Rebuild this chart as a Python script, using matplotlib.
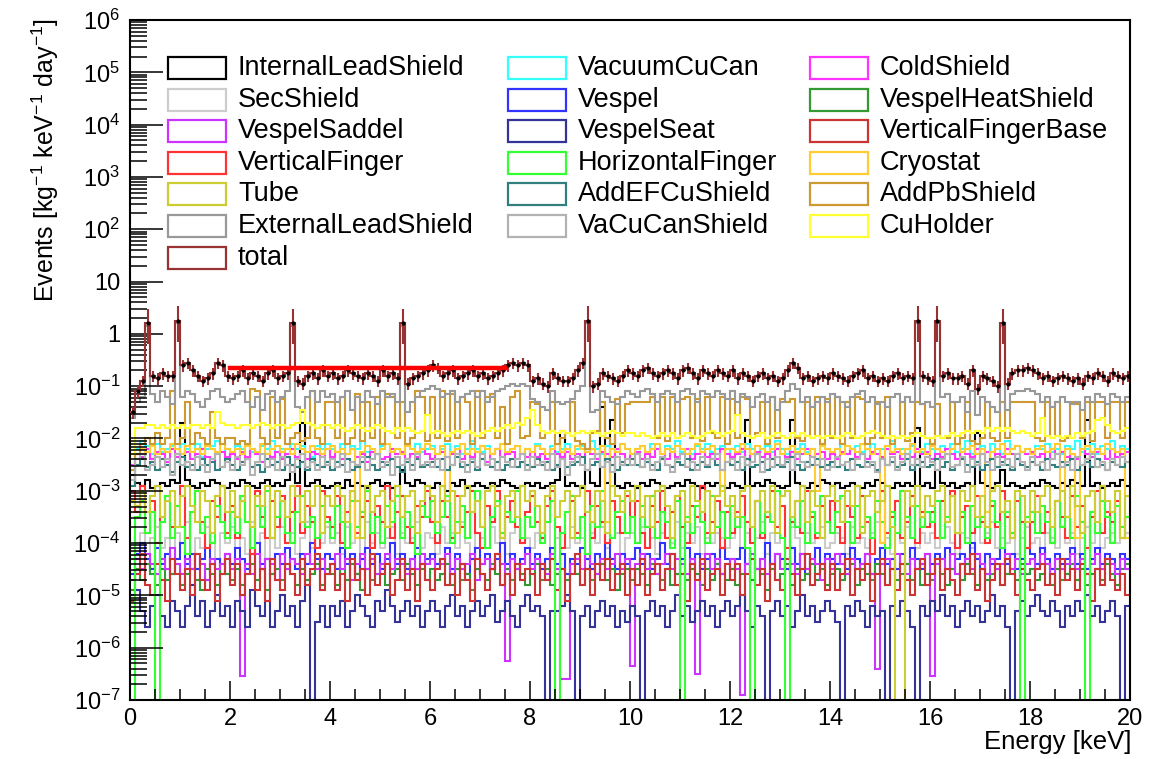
import numpy as np
import matplotlib
matplotlib.use("Agg")
import matplotlib.pyplot as plt
from matplotlib.patches import Rectangle
from matplotlib.ticker import LogLocator, NullFormatter, FuncFormatter, MultipleLocator

plt.rcParams['font.family'] = 'Liberation Sans'
plt.rcParams['mathtext.fontset'] = 'custom'
plt.rcParams['mathtext.rm'] = 'Liberation Sans'
plt.rcParams['mathtext.it'] = 'Liberation Sans:italic'

# 200 bins of 0.1 keV from 0 to 20 keV
e_min, e_max, n_bins = 0.0, 20.0, 200

# log10 of events [kg^-1 keV^-1 day^-1] per bin
# (-9 marks an empty bin, drawn below the axis)
InternalLeadShield = [
    -2.7, -2.85, -2.9, -2.8, -2.95, -2.9, -2.85, -2.9, -2.8, -2.85, -1.7, -2.8, -2.9, -2.95, -2.85, -2.9, -2.8, -2.85, -2.9, -2.95,
    -2.85, -2.9, -2.8, -2.85, -2.9, -2.95, -2.85, -2.8, -2.9, -2.85, -2.9, -2.8, -2.5, -2.85, -1.7, -2.9, -2.85, -2.8, -2.9, -2.95,
    -2.9, -2.85, -2.95, -2.8, -2.9, -2.85, -2.9, -2.95, -2.85, -2.8, -2.9, -2.85, -2.95, -2.9, -2.6, -2.85, -2.9, -2.8, -2.85, -2.9,
    -2.95, -2.85, -2.9, -3.0, -2.85, -2.9, -2.8, -2.95, -2.9, -2.85, -2.9, -2.95, -2.85, -2.9, -2.8, -2.85, -2.9, -2.95, -2.9, -2.85,
    -2.9, -2.85, -2.95, -2.9, -2.85, -2.8, -1.85, -2.9, -2.85, -2.9, -2.95, -2.6, -2.85, -2.9, -1.4, -2.85, -1.65, -2.9, -2.95, -2.85,
    -2.9, -2.95, -2.85, -2.9, -2.8, -2.85, -2.9, -2.95, -2.9, -2.85, -2.9, -2.8, -2.85, -2.9, -2.95, -2.85, -2.9, -2.85, -2.9, -2.95,
    -2.85, -2.9, -2.95, -1.65, -2.9, -2.85, -2.9, -2.8, -2.85, -2.9, -2.95, -2.9, -1.65, -2.85, -2.9, -2.95, -2.85, -2.9, -2.8, -2.85,
    -2.9, -2.85, -2.95, -2.9, -2.85, -2.9, -2.95, -2.85, -2.9, -2.8, -2.85, -2.9, -2.95, -2.85, -2.9, -2.85, -2.9, -1.8, -2.9, -2.85,
    -2.95, -2.6, -2.85, -2.9, -2.85, -2.95, -2.9, -2.85, -2.9, -1.9, -2.85, -2.9, -2.95, -2.85, -2.6, -2.9, -2.85, -2.9, -2.95, -2.9,
    -2.85, -2.9, -2.8, -2.85, -2.9, -2.95, -2.85, -2.9, -2.8, -2.85, -2.9, -1.65, -2.9, -2.85, -2.95, -2.9, -2.85, -2.9, -2.8, -2.9,
]
VacuumCuCan = [
    -2.6, -2.2, -2.05, -2.15, -2.3, -2.1, -2.25, -2.2, -2.15, -2.3, -2.1, -2.2, -2.25, -2.1, -2.35, -2.2, -2.15, -2.05, -2.25, -2.2,
    -2.3, -2.15, -2.2, -2.1, -2.25, -2.3, -2.15, -2.2, -2.05, -2.25, -2.2, -2.3, -2.1, -2.2, -2.15, -2.25, -2.35, -2.15, -2.2, -2.1,
    -2.2, -2.25, -2.1, -2.3, -2.15, -2.2, -2.05, -2.25, -2.2, -2.3, -2.15, -2.1, -2.25, -2.2, -2.3, -2.15, -2.2, -2.1, -2.25, -2.2,
    -2.15, -2.3, -2.2, -2.1, -2.25, -2.15, -2.3, -2.2, -2.05, -2.2, -2.25, -2.15, -2.3, -2.2, -2.1, -2.25, -2.2, -2.15, -2.3, -2.2,
    -2.25, -2.1, -2.2, -2.3, -2.15, -2.25, -2.2, -2.1, -2.3, -2.2, -2.15, -2.25, -2.05, -2.2, -2.3, -2.15, -2.2, -2.25, -2.1, -2.2,
    -2.3, -2.2, -2.15, -2.25, -2.1, -2.2, -2.3, -2.15, -2.2, -2.05, -2.25, -2.2, -2.3, -2.15, -2.2, -2.1, -2.25, -2.2, -2.15, -2.3,
    -2.2, -2.15, -2.25, -2.1, -2.2, -2.3, -2.2, -2.15, -2.25, -2.05, -2.2, -2.3, -2.15, -2.2, -2.1, -2.25, -2.2, -2.3, -2.15, -2.2,
    -2.25, -2.2, -2.1, -2.3, -2.2, -2.15, -2.25, -2.2, -2.1, -2.3, -2.2, -2.15, -2.05, -2.25, -2.2, -2.3, -2.15, -2.2, -2.25, -2.1,
    -2.2, -2.3, -2.15, -2.2, -2.1, -2.25, -2.2, -2.05, -2.3, -2.2, -2.15, -2.25, -2.1, -2.2, -2.3, -2.05, -2.2, -2.15, -2.25, -2.2,
    -2.3, -2.15, -2.2, -2.1, -2.25, -2.2, -2.3, -2.15, -2.2, -2.05, -2.25, -2.2, -2.1, -2.3, -2.15, -2.2, -2.05, -2.25, -2.15, -2.2,
]
ColdShield = [
    -2.5, -2.3, -2.35, -2.2, -2.4, -2.25, -2.3, -2.45, -2.2, -2.35, -2.3, -2.25, -2.4, -2.3, -2.2, -2.35, -2.45, -2.3, -2.25, -2.35,
    -2.3, -2.4, -2.25, -2.35, -2.2, -2.3, -2.45, -2.3, -2.35, -2.25, -2.4, -2.3, -2.2, -2.35, -2.3, -2.4, -2.25, -2.3, -2.35, -2.2,
    -2.35, -2.25, -2.4, -2.3, -2.2, -2.35, -2.3, -2.45, -2.25, -2.3, -2.4, -2.35, -2.2, -2.3, -2.25, -2.4, -2.3, -2.35, -2.2, -2.3,
    -2.4, -2.3, -2.25, -2.35, -2.3, -2.2, -2.4, -2.3, -2.35, -2.25, -2.3, -2.45, -2.3, -2.2, -2.35, -2.3, -2.25, -2.4, -2.3, -2.35,
    -2.25, -2.35, -2.3, -2.4, -2.2, -2.3, -2.35, -2.25, -2.4, -2.3, -2.35, -2.2, -2.3, -2.4, -2.25, -2.3, -2.35, -2.2, -2.3, -2.4,
    -2.3, -2.25, -2.4, -2.3, -2.35, -2.2, -2.3, -2.4, -2.25, -2.35, -2.3, -2.2, -2.4, -2.3, -2.25, -2.35, -2.3, -2.4, -2.2, -2.3,
    -2.35, -2.3, -2.2, -2.4, -2.3, -2.25, -2.35, -2.3, -2.4, -2.2, -2.3, -2.35, -2.25, -2.4, -2.3, -2.2, -2.35, -2.3, -2.25, -2.4,
    -2.3, -2.4, -2.25, -2.3, -2.2, -2.35, -2.3, -2.4, -2.25, -2.3, -2.35, -2.2, -2.3, -2.25, -2.4, -2.3, -2.35, -2.2, -2.3, -2.25,
    -2.4, -2.3, -2.35, -2.2, -2.3, -2.4, -2.25, -2.3, -2.35, -2.2, -2.3, -2.25, -2.4, -2.3, -2.35, -2.2, -2.3, -2.4, -2.25, -2.3,
    -2.25, -2.35, -2.3, -2.4, -2.2, -2.3, -2.25, -2.35, -2.3, -2.4, -2.2, -2.3, -2.35, -2.25, -2.3, -2.4, -2.2, -2.35, -2.3, -2.25,
]
SecShield = [
    -4.3, -4.0, -3.8, -4.2, -3.9, -3.7, -4.1, -3.9, -4.3, -3.8, -4.0, -3.6, -4.2, -3.9, -4.1, -3.7, -4.0, -4.3, -3.8, -4.0,
    -3.7, -4.1, -3.9, -4.2, -3.6, -4.0, -3.8, -4.3, -3.9, -4.1, -3.7, -4.0, -3.8, -4.2, -3.9, -3.6, -4.1, -3.9, -4.0, -3.7,
    -4.0, -3.8, -4.2, -3.7, -4.0, -3.9, -4.3, -3.6, -4.0, -3.8, -4.1, -3.9, -3.7, -4.2, -3.8, -4.0, -3.9, -3.6, -4.1, -3.8,
    -3.9, -4.2, -3.7, -4.0, -3.8, -4.1, -3.6, -4.0, -4.3, -3.8, -3.9, -4.1, -3.7, -4.0, -3.9, -4.2, -3.8, -3.7, -4.0, -3.9,
    -4.1, -3.8, -4.0, -3.6, -4.2, -3.9, -3.8, -4.1, -3.7, -4.0, -3.9, -4.3, -3.8, -4.0, -3.7, -4.1, -3.9, -3.8, -4.2, -3.9,
    -3.8, -4.0, -3.7, -4.1, -3.9, -4.2, -3.8, -3.9, -4.0, -3.6, -4.1, -3.8, -4.0, -3.7, -4.2, -3.9, -4.0, -3.8, -3.9, -4.1,
    -3.9, -3.7, -4.1, -3.8, -4.0, -3.9, -3.6, -4.2, -3.8, -4.0, -3.9, -4.1, -3.7, -3.9, -4.2, -3.8, -4.0, -3.9, -3.7, -4.1,
    -4.0, -3.8, -3.9, -4.2, -3.7, -4.0, -3.9, -4.1, -3.8, -3.6, -4.0, -3.9, -4.2, -3.8, -4.0, -3.7, -3.9, -4.1, -3.8, -4.0,
    -3.8, -4.1, -3.9, -3.7, -4.0, -4.2, -3.8, -3.9, -4.1, -3.7, -4.0, -3.8, -3.6, -4.1, -3.9, -4.0, -3.8, -4.2, -3.9, -3.7,
    -4.0, -3.9, -4.2, -3.8, -3.9, -4.1, -3.7, -4.0, -3.8, -4.2, -3.9, -3.7, -4.0, -3.8, -4.1, -3.9, -3.8, -4.0, -3.9, -3.8,
]
Vespel = [
    -4.6, -4.2, -4.0, -4.3, -4.5, -4.1, -4.4, -4.2, -4.6, -4.3, -4.0, -4.4, -4.2, -4.5, -4.3, -4.1, -4.4, -4.3, -4.6, -4.2,
    -4.4, -4.1, -4.3, -4.5, -4.2, -4.0, -4.4, -4.3, -4.6, -4.2, -4.4, -4.1, -4.3, -4.5, -4.2, -4.4, -4.0, -4.3, -4.5, -4.2,
    -4.3, -4.5, -4.1, -4.4, -4.2, -4.6, -4.3, -4.1, -4.4, -4.2, -4.5, -4.3, -4.0, -4.4, -4.2, -4.5, -4.3, -4.1, -4.4, -4.3,
    -4.2, -4.4, -4.3, -4.1, -4.5, -4.2, -4.4, -4.6, -4.3, -4.1, -4.4, -4.2, -4.5, -4.3, -4.0, -4.4, -4.2, -4.5, -4.3, -4.1,
    -4.4, -4.2, -4.5, -4.3, -4.1, -4.4, -4.2, -4.6, -4.3, -4.4, -4.1, -4.3, -4.5, -4.2, -4.4, -4.0, -4.3, -4.5, -4.2, -4.4,
    -4.3, -4.1, -4.4, -4.2, -4.5, -4.3, -4.0, -4.4, -4.2, -4.6, -4.3, -4.1, -4.4, -4.2, -4.5, -4.3, -4.2, -4.4, -4.1, -4.3,
    -4.5, -4.3, -4.1, -4.4, -4.2, -4.5, -4.3, -4.0, -4.4, -4.2, -4.3, -4.5, -4.1, -4.4, -4.2, -4.6, -4.3, -4.1, -4.4, -4.2,
    -4.3, -4.4, -4.2, -4.5, -4.1, -4.3, -4.4, -4.2, -4.6, -4.3, -4.1, -4.4, -4.3, -4.5, -4.2, -4.4, -4.1, -4.3, -4.5, -4.2,
    -4.4, -4.2, -4.3, -4.1, -4.5, -4.3, -4.2, -4.4, -4.0, -4.3, -4.5, -4.2, -4.4, -4.3, -4.1, -4.4, -4.2, -4.5, -4.3, -4.1,
    -4.2, -4.4, -4.1, -4.3, -4.5, -4.2, -4.4, -4.3, -4.1, -4.4, -4.2, -4.5, -4.3, -4.1, -4.4, -4.2, -4.3, -4.5, -4.2, -4.3,
]
VespelHeatShield = [
    -4.9, -4.5, -4.7, -4.4, -4.6, -4.8, -4.5, -4.7, -4.6, -4.4, -4.8, -4.6, -4.5, -4.7, -4.9, -4.5, -4.6, -4.8, -4.4, -4.6,
    -4.7, -4.5, -4.8, -4.6, -4.4, -4.7, -4.5, -4.9, -4.6, -4.5, -4.7, -4.4, -4.6, -4.8, -4.5, -4.7, -4.6, -4.4, -4.8, -4.5,
    -4.6, -4.8, -4.5, -4.7, -4.4, -4.6, -4.9, -4.5, -4.7, -4.6, -4.4, -4.8, -4.6, -4.5, -4.7, -4.4, -4.6, -4.8, -4.5, -4.7,
    -4.5, -4.7, -4.6, -4.4, -4.8, -4.5, -4.7, -4.6, -4.9, -4.5, -4.6, -4.7, -4.4, -4.6, -4.8, -4.5, -4.7, -4.4, -4.6, -4.8,
    -4.6, -4.4, -4.7, -4.5, -4.8, -4.6, -4.5, -4.7, -4.4, -4.6, -4.8, -4.5, -4.7, -4.6, -4.4, -4.7, -4.5, -4.9, -4.6, -4.5,
    -4.7, -4.5, -4.6, -4.8, -4.4, -4.6, -4.7, -4.5, -4.8, -4.6, -4.4, -4.7, -4.5, -4.6, -4.8, -4.5, -4.7, -4.4, -4.6, -4.7,
    -4.5, -4.8, -4.6, -4.4, -4.7, -4.5, -4.6, -4.9, -4.5, -4.7, -4.6, -4.4, -4.8, -4.5, -4.7, -4.6, -4.4, -4.7, -4.5, -4.8,
    -4.6, -4.5, -4.7, -4.6, -4.4, -4.8, -4.5, -4.6, -4.7, -4.4, -4.6, -4.8, -4.5, -4.7, -4.6, -4.4, -4.7, -4.5, -4.8, -4.6,
    -4.7, -4.4, -4.6, -4.8, -4.5, -4.6, -4.7, -4.4, -4.6, -4.8, -4.5, -4.7, -4.6, -4.4, -4.8, -4.6, -4.5, -4.7, -4.4, -4.6,
    -4.5, -4.7, -4.6, -4.4, -4.8, -4.5, -4.7, -4.6, -4.4, -4.7, -4.5, -4.8, -4.6, -4.5, -4.7, -4.4, -4.6, -4.8, -4.5, -4.4,
]
VespelSaddel = [
    -4.7, -4.3, -4.5, -4.2, -4.4, -4.6, -4.3, -4.5, -4.1, -4.4, -4.6, -4.3, -4.5, -4.2, -4.4, -4.7, -4.3, -4.5, -4.4, -4.2,
    -4.5, -4.3, -6.55, -4.4, -4.6, -4.2, -4.5, -4.3, -4.4, -4.7, -4.2, -4.5, -4.3, -4.4, -4.6, -4.2, -4.4, -4.5, -4.3, -4.6,
    -4.4, -4.2, -4.5, -4.3, -4.7, -4.4, -4.2, -4.5, -4.3, -4.6, -4.4, -4.2, -4.5, -4.3, -4.4, -4.6, -4.3, -4.5, -4.2, -4.4,
    -4.3, -4.5, -4.4, -4.2, -4.6, -4.3, -4.5, -4.4, -4.2, -4.7, -4.4, -4.3, -4.5, -4.2, -4.4, -6.25, -4.3, -4.5, -4.4, -4.2,
    -4.5, -4.3, -4.4, -4.6, -4.2, -4.5, -6.6, -6.6, -4.4, -4.3, -4.5, -4.2, -4.4, -4.6, -4.3, -4.5, -4.4, -4.2, -4.5, -4.3,
    -6.35, -4.4, -4.2, -4.5, -4.3, -4.6, -4.4, -4.2, -4.5, -4.3, -4.4, -4.6, -4.3, -6.5, -4.4, -4.2, -4.5, -4.3, -4.6, -4.4,
    -4.3, -4.5, -6.9, -4.4, -4.2, -4.5, -4.3, -4.6, -4.4, -4.2, -4.5, -4.3, -4.4, -4.6, -4.2, -4.5, -4.3, -4.4, -4.7, -4.3,
    -4.5, -4.2, -4.4, -4.6, -4.3, -4.5, -4.4, -4.2, -4.6, -6.4, -4.4, -4.3, -4.5, -4.2, -4.4, -4.6, -4.3, -4.5, -4.4, -4.2,
    -6.55, -4.4, -4.3, -4.5, -4.2, -4.6, -4.4, -4.3, -4.5, -4.2, -4.4, -4.6, -4.3, -4.5, -4.4, -4.2, -4.5, -4.3, -4.6, -4.4,
    -4.3, -4.5, -4.2, -4.4, -4.6, -4.3, -4.5, -4.4, -4.2, -4.5, -4.3, -4.6, -4.4, -4.2, -4.5, -4.3, -4.4, -4.6, -4.3, -4.5,
]
VespelSeat = [
    -5.0, -4.9, -5.3, -5.6, -5.2, -5.0, -5.4, -5.6, -5.1, -5.3, -5.6, -5.2, -4.8, -5.4, -5.1, -5.6, -5.3, -5.0, -5.4, -5.2,
    -5.6, -5.1, -5.3, -5.6, -4.9, -5.2, -5.4, -5.1, -5.6, -5.3, -5.0, -5.4, -5.2, -5.6, -5.1, -4.8, -9, -5.5, -5.2, -5.6,
    -5.2, -5.4, -5.1, -5.6, -5.3, -5.0, -5.2, -5.4, -5.6, -5.1, -5.3, -4.9, -5.2, -5.5, -5.3, -5.1, -5.4, -5.2, -5.6, -5.3,
    -5.1, -5.3, -5.6, -5.2, -5.0, -5.4, -5.2, -5.6, -5.3, -5.1, -5.4, -5.2, -5.0, -5.5, -5.3, -5.1, -5.4, -5.6, -5.2, -5.0,
    -5.3, -5.2, -5.4, -9, -5.3, -5.3, -5.2, -5.0, -5.3, -9, -5.4, -5.2, -5.6, -5.3, -5.1, -5.4, -5.2, -5.6, -5.3, -5.5,
    -5.2, -5.4, -9, -5.3, -5.1, -5.4, -5.2, -5.6, -5.3, -5.0, -5.4, -5.2, -5.5, -5.3, -5.1, -5.4, -5.2, -5.6, -5.3, -5.1,
    -5.4, -5.2, -5.0, -5.3, -5.6, -5.2, -5.4, -9, -5.3, -5.1, -5.4, -5.2, -5.6, -5.3, -5.0, -5.4, -5.2, -5.5, -5.3, -5.1,
    -5.3, -5.5, -9, -5.2, -5.4, -5.1, -5.3, -5.6, -5.2, -5.4, -5.3, -9, -5.2, -5.4, -5.1, -5.3, -5.6, -9, -5.2, -5.4,
    -5.1, -5.3, -5.0, -5.4, -5.2, -5.6, -5.3, -5.1, -5.4, -5.2, -5.5, -5.3, -5.0, -5.4, -5.2, -5.6, -9, -5.3, -5.1, -5.4,
    -5.2, -5.0, -5.3, -5.4, -5.1, -5.3, -5.6, -5.2, -5.4, -5.1, -5.3, -5.0, -5.4, -5.2, -5.5, -5.3, -5.1, -5.4, -9, -5.2,
]
VerticalFingerBase = [
    -5.1, -4.6, -4.2, -4.8, -5.0, -4.4, -4.7, -5.1, -4.3, -4.6, -4.9, -4.5, -5.0, -4.2, -4.7, -4.9, -4.4, -5.1, -4.6, -4.3,
    -4.8, -4.4, -5.0, -4.6, -4.2, -4.9, -4.5, -5.1, -4.3, -4.7, -4.9, -4.4, -4.6, -5.0, -4.3, -4.8, -4.5, -4.2, -4.9, -4.6,
    -4.4, -4.9, -4.6, -5.1, -4.3, -4.7, -4.5, -5.0, -4.2, -4.8, -4.6, -4.4, -5.0, -4.7, -4.3, -4.9, -4.5, -5.1, -4.4, -4.7,
    -4.9, -4.5, -4.3, -4.8, -4.6, -5.0, -4.4, -4.7, -5.1, -4.3, -4.6, -4.9, -4.5, -4.2, -4.8, -4.6, -5.0, -4.4, -4.7, -4.5,
    -4.6, -5.0, -4.4, -4.7, -4.3, -4.9, -4.5, -5.1, -4.6, -4.2, -4.8, -4.5, -5.0, -4.4, -4.7, -4.3, -4.9, -4.6, -4.4, -5.0,
    -4.5, -4.8, -4.3, -5.0, -4.6, -4.4, -4.9, -4.5, -4.2, -4.8, -4.6, -5.1, -4.4, -4.7, -4.3, -4.9, -4.6, -4.5, -5.0, -4.4,
    -4.7, -4.4, -5.0, -4.6, -4.3, -4.8, -4.5, -5.1, -4.4, -4.7, -4.9, -4.3, -4.6, -5.0, -4.5, -4.2, -4.8, -4.6, -4.4, -4.9,
    -4.4, -4.9, -4.6, -4.3, -5.0, -4.5, -4.7, -4.4, -5.1, -4.6, -4.3, -4.8, -4.5, -4.9, -4.4, -4.7, -5.0, -4.5, -4.3, -4.8,
    -4.6, -4.3, -4.9, -4.5, -4.7, -5.0, -4.4, -4.6, -4.2, -4.9, -4.5, -5.1, -4.7, -4.4, -4.8, -4.3, -4.6, -5.0, -4.5, -4.7,
    -4.9, -4.5, -4.4, -4.8, -4.6, -5.0, -4.3, -4.7, -4.5, -4.9, -4.4, -4.6, -5.1, -4.5, -4.8, -4.3, -4.7, -4.9, -4.6, -5.0,
]
VerticalFinger = [
    -3.0, -3.4, -2.9, -3.8, -3.2, -4.0, -3.5, -3.1, -3.7, -3.3, -2.9, -3.9, -3.4, -3.0, -3.6, -4.1, -3.2, -3.5, -2.9, -3.8,
    -3.3, -3.9, -3.1, -3.6, -4.2, -3.0, -3.5, -3.9, -3.2, -3.7, -3.1, -4.0, -3.4, -2.9, -3.8, -3.3, -3.6, -4.1, -3.0, -3.5,
    -3.7, -3.1, -4.0, -3.4, -3.0, -3.8, -3.5, -3.2, -4.1, -3.3, -3.6, -2.9, -3.9, -3.4, -3.1, -3.7, -4.0, -3.3, -3.5, -3.0,
    -3.6, -4.0, -3.2, -3.5, -3.9, -3.1, -3.7, -3.4, -3.0, -3.8, -4.1, -3.3, -3.6, -3.0, -3.9, -3.5, -3.2, -3.7, -4.0, -3.4,
    -3.1, -3.6, -3.9, -3.3, -3.0, -3.7, -4.1, -3.4, -3.2, -3.8, -3.5, -3.0, -3.9, -3.3, -3.6, -4.0, -3.2, -3.5, -3.8, -3.1,
    -3.5, -3.2, -3.8, -4.1, -3.3, -3.6, -3.0, -3.9, -3.4, -3.1, -3.7, -4.0, -3.3, -3.5, -2.9, -3.8, -3.6, -3.2, -4.1, -3.4,
    -3.8, -3.4, -3.1, -3.6, -4.0, -3.2, -3.9, -3.5, -3.0, -3.7, -3.3, -4.1, -3.6, -3.2, -3.8, -3.0, -3.5, -3.9, -3.3, -3.6,
    -3.2, -3.7, -4.0, -3.3, -3.5, -3.9, -3.1, -3.6, -4.2, -3.4, -3.0, -3.8, -3.5, -3.2, -3.9, -3.6, -3.1, -4.0, -3.4, -3.7,
    -3.4, -3.9, -3.2, -3.6, -3.0, -4.1, -3.5, -3.3, -3.8, -3.1, -3.6, -4.0, -3.3, -3.7, -3.0, -3.5, -3.9, -3.2, -3.6, -4.1,
    -3.6, -3.1, -3.8, -3.4, -4.0, -3.2, -3.5, -3.9, -3.1, -3.7, -3.3, -4.1, -3.5, -3.0, -3.8, -3.4, -3.6, -3.2, -3.9, -3.5,
]
HorizontalFinger = [
    -9, -3.5, -3.2, -3.8, -3.4, -9, -3.6, -3.1, -3.9, -3.3, -3.7, -4.2, -3.4, -3.0, -3.8, -3.5, -4.0, -3.3, -3.6, -3.9,
    -3.4, -3.8, -3.1, -3.6, -4.1, -3.3, -3.7, -3.0, -3.9, -3.5, -3.2, -3.8, -4.0, -3.4, -3.1, -3.7, -3.5, -3.9, -3.3, -3.6,
    -3.9, -3.3, -3.6, -4.1, -3.2, -3.7, -3.4, -3.0, -3.8, -3.5, -4.0, -3.3, -3.6, -3.1, -3.9, -3.4, -3.7, -4.2, -3.3, -3.5,
    -3.2, -3.8, -3.5, -3.1, -4.0, -3.6, -3.3, -3.9, -3.4, -3.0, -3.7, -4.1, -3.5, -3.2, -3.8, -3.4, -3.6, -3.0, -3.9, -3.5,
    -3.7, -3.3, -4.0, -3.6, -3.2, -9, -3.8, -3.4, -3.1, -3.9, -3.5, -4.2, -3.3, -3.7, -3.0, -3.6, -3.9, -3.4, -3.2, -3.8,
    -3.5, -4.0, -3.3, -3.7, -3.1, -3.9, -3.4, -3.6, -4.1, -3.2, -9, -3.5, -3.8, -3.3, -3.6, -4.0, -3.1, -3.7, -3.4, -3.9,
    -3.3, -3.7, -3.5, -4.1, -9, -3.2, -3.8, -3.4, -3.6, -3.0, -3.9, -9, -3.5, -3.7, -3.2, -4.0, -3.4, -3.8, -3.1, -3.6,
    -3.8, -3.4, -3.1, -3.6, -4.0, -3.3, -3.7, -3.5, -3.9, -3.2, -3.6, -4.1, -3.4, -3.8, -3.0, -3.5, -3.9, -3.3, -3.7, -3.4,
    -3.6, -3.2, -3.9, -3.5, -3.1, -3.8, -3.4, -4.0, -3.3, -3.7, -3.5, -3.9, -3.2, -3.6, -4.1, -3.4, -3.8, -3.0, -9, -3.5,
    -3.4, -3.8, -3.3, -3.6, -4.0, -3.2, -3.7, -3.5, -3.9, -3.1, -3.6, -9, -3.4, -3.8, -3.2, -3.5, -4.0, -3.3, -3.7, -3.5,
]
Cryostat = [
    -2.9, -2.3, -2.2, -2.25, -2.15, -2.3, -2.2, -2.25, -2.1, -2.2, -2.3, -2.15, -2.25, -2.2, -2.3, -2.15, -2.2, -2.25, -2.1, -2.2,
    -2.25, -2.2, -2.3, -2.15, -2.2, -2.25, -2.1, -2.3, -2.2, -2.15, -2.25, -2.2, -2.3, -2.1, -2.2, -2.25, -2.15, -2.2, -2.3, -2.2,
    -2.15, -2.25, -2.2, -2.3, -2.2, -3.9, -2.25, -2.15, -2.2, -2.3, -2.2, -2.1, -2.25, -2.2, -2.3, -2.15, -2.2, -2.25, -2.2, -2.1,
    -2.2, -2.3, -2.15, -3.2, -2.25, -2.2, -2.1, -2.3, -2.2, -2.25, -2.15, -2.2, -2.3, -2.2, -2.1, -2.25, -2.2, -2.15, -2.3, -2.2,
    -2.25, -2.15, -2.2, -2.3, -2.2, -2.1, -2.25, -2.2, -2.3, -2.15, -2.2, -2.25, -2.2, -2.3, -2.15, -3.6, -2.2, -2.25, -2.1, -2.2,
    -2.3, -2.2, -2.15, -2.25, -2.2, -2.1, -2.3, -2.2, -2.25, -2.15, -2.2, -2.3, -2.2, -2.1, -2.25, -2.2, -2.15, -2.3, -3.0, -2.2,
    -2.2, -2.25, -2.1, -2.2, -2.3, -2.15, -2.2, -2.25, -2.2, -2.1, -2.3, -2.2, -2.15, -2.25, -2.2, -2.3, -2.2, -3.0, -2.15, -2.2,
    -2.25, -2.2, -2.3, -2.15, -2.2, -2.25, -2.1, -2.2, -2.3, -2.2, -4.0, -2.15, -2.25, -2.2, -2.3, -2.2, -2.1, -2.25, -2.2, -2.3,
    -2.15, -2.2, -2.25, -2.3, -2.2, -2.1, -2.25, -2.2, -2.15, -2.3, -2.2, -3.4, -2.25, -2.2, -2.1, -2.3, -2.2, -2.15, -2.25, -2.2,
    -2.3, -2.2, -2.15, -2.25, -2.2, -2.1, -3.0, -2.2, -2.3, -3.9, -2.2, -2.15, -2.25, -2.2, -2.3, -2.1, -2.2, -2.25, -2.2, -3.9,
]
Tube = [
    -3.2, -3.3, -3.0, -3.4, -3.1, -2.9, -3.5, -3.2, -3.0, -3.7, -3.1, -2.9, -3.3, -3.6, -3.0, -3.2, -3.8, -3.1, -2.9, -3.4,
    -3.0, -3.5, -3.2, -2.9, -3.7, -3.1, -3.3, -2.9, -3.9, -3.0, -3.2, -3.5, -2.9, -3.1, -3.6, -3.0, -3.3, -2.9, -3.8, -3.1,
    -3.3, -2.9, -3.1, -3.6, -3.0, -3.2, -3.9, -2.9, -3.4, -3.1, -3.0, -3.7, -3.2, -2.9, -3.5, -3.1, -3.0, -3.8, -3.2, -2.9,
    -3.1, -3.6, -2.9, -3.2, -3.0, -3.8, -3.1, -2.9, -3.4, -3.2, -3.7, -3.0, -2.9, -3.3, -3.9, -3.1, -3.0, -3.5, -2.9, -3.2,
    -3.0, -3.3, -3.8, -3.1, -2.9, -3.5, -3.2, -3.0, -3.9, -3.1, -2.9, -3.4, -3.6, -3.0, -3.2, -3.8, -2.9, -3.1, -3.4, -3.0,
    -3.2, -2.9, -3.5, -3.1, -3.7, -3.0, -2.9, -3.3, -3.9, -3.1, -3.0, -3.6, -2.9, -3.2, -3.4, -3.0, -3.8, -3.1, -2.9, -3.3,
    -3.1, -3.5, -3.0, -2.9, -3.7, -3.2, -3.0, -3.4, -2.9, -3.8, -3.1, -3.0, -3.5, -3.2, -2.9, -3.6, -3.0, -3.3, -3.9, -3.1,
    -2.9, -3.2, -3.6, -3.0, -3.3, -2.9, -3.8, -3.1, -3.0, -3.4, -3.2, -2.9, -3.7, -9, -9, -3.0, -3.3, -2.9, -3.5, -3.1,
    -3.3, -3.0, -2.9, -3.6, -3.1, -3.8, -3.0, -3.2, -2.9, -3.5, -3.1, -3.7, -3.0, -2.9, -3.4, -3.2, -3.9, -3.0, -3.1, -3.6,
    -3.0, -3.4, -3.1, -2.9, -3.7, -3.2, -3.0, -3.5, -2.9, -3.3, -3.8, -3.1, -3.0, -3.6, -2.9, -3.2, -3.4, -3.0, -3.9, -3.1,
]
AddEFCuShield = [
    -2.9, -2.5, -2.4, -2.55, -2.45, -2.6, -2.4, -2.5, -2.65, -2.45, -2.35, -2.55, -2.5, -2.6, -2.4, -2.5, -2.45, -2.6, -2.55, -2.4,
    -2.5, -2.6, -2.45, -2.4, -2.55, -2.5, -2.65, -2.4, -2.5, -2.45, -2.6, -2.35, -2.5, -2.55, -2.45, -2.6, -2.4, -2.5, -2.55, -2.45,
    -2.6, -2.45, -2.5, -2.4, -2.6, -2.55, -2.45, -2.35, -2.5, -2.6, -2.45, -2.5, -2.4, -2.55, -2.65, -2.45, -2.5, -2.4, -2.55, -2.5,
    -2.45, -2.55, -2.4, -2.6, -2.5, -2.35, -2.55, -2.5, -2.45, -2.6, -2.4, -2.5, -2.55, -2.45, -2.6, -2.5, -2.4, -2.55, -2.45, -2.5,
    -2.55, -2.4, -2.5, -2.45, -2.6, -2.5, -2.4, -2.55, -2.5, -2.45, -2.35, -2.6, -2.5, -2.45, -2.55, -2.4, -2.5, -2.6, -2.45, -2.5,
    -2.4, -2.5, -2.55, -2.45, -2.5, -2.6, -2.4, -2.5, -2.55, -2.45, -2.5, -2.4, -2.6, -2.5, -2.45, -2.55, -2.4, -2.5, -2.6, -2.45,
    -2.5, -2.45, -2.6, -2.4, -2.55, -2.5, -2.45, -2.6, -2.4, -2.5, -2.55, -2.45, -2.35, -2.5, -2.6, -2.45, -2.5, -2.4, -2.55, -2.5,
    -2.45, -2.55, -2.5, -2.6, -2.4, -2.5, -2.55, -2.45, -2.5, -2.6, -2.4, -2.5, -2.45, -2.55, -2.5, -2.4, -2.6, -2.5, -2.45, -2.55,
    -2.5, -2.4, -2.55, -2.45, -2.6, -2.5, -2.4, -2.5, -2.55, -2.45, -2.6, -2.5, -2.4, -2.55, -2.45, -2.5, -2.6, -2.4, -2.5, -2.55,
    -2.45, -2.5, -2.6, -2.4, -2.5, -2.55, -2.45, -2.5, -2.4, -2.6, -2.5, -2.45, -2.55, -2.4, -2.5, -2.6, -2.45, -2.5, -2.55, -2.45,
]
AddPbShield = [
    -2.6, -2.3, -2.1, -2.0, -2.1, -1.9, -2.1, -2.0, -1.1, -2.1, -2.0, -1.3, -2.1, -1.9, -2.0, -2.1, -1.5, -2.0, -2.1, -2.0,
    -2.0, -2.1, -2.05, -2.1, -1.05, -1.1, -2.0, -2.1, -1.2, -2.0, -1.25, -2.1, -2.0, -1.9, -2.05, -2.0, -1.1, -2.0, -2.1, -1.3,
    -1.3, -2.0, -1.2, -2.1, -2.0, -1.15, -2.05, -1.3, -2.0, -1.2, -2.1, -1.15, -1.2, -2.0, -1.3, -2.1, -2.0, -1.1, -1.2, -2.05,
    -1.2, -2.0, -1.1, -2.05, -1.15, -2.0, -1.2, -1.3, -2.1, -1.1, -2.0, -1.2, -1.15, -2.0, -1.4, -2.1, -1.2, -1.1, -2.0, -1.95,
    -1.3, -1.35, -2.0, -1.9, -1.3, -2.1, -2.0, -1.9, -1.3, -2.05, -2.1, -2.2, -1.9, -1.85, -1.3, -2.0, -2.1, -1.25, -1.9, -1.35,
    -1.3, -1.3, -1.3, -1.3, -1.2, -2.0, -1.2, -2.05, -1.2, -2.0, -1.25, -1.2, -2.0, -1.25, -2.05, -1.2, -1.9, -2.0, -1.2, -2.1,
    -1.25, -2.0, -1.2, -1.25, -2.0, -1.9, -1.3, -2.1, -1.2, -2.0, -1.25, -1.3, -1.25, -2.0, -2.05, -1.3, -2.0, -1.2, -2.1, -1.25,
    -2.0, -1.2, -2.1, -1.3, -2.0, -1.2, -1.25, -2.1, -2.0, -1.3, -2.0, -1.2, -2.1, -2.0, -1.3, -2.05, -1.9, -1.3, -1.35, -2.0,
    -2.1, -1.35, -2.0, -2.0, -1.3, -2.1, -2.0, -1.3, -2.05, -2.1, -2.0, -1.3, -2.0, -2.05, -1.3, -2.0, -1.3, -1.3, -1.3, -1.3,
    -1.3, -2.0, -2.05, -1.3, -2.0, -1.3, -2.05, -2.0, -1.3, -1.35, -2.0, -1.3, -2.05, -1.3, -1.3, -2.0, -1.3, -1.3, -2.0, -1.3,
]
ExternalLeadShield = [
    -1.6, -1.3, -1.2, 0.15, -1.15, -1.3, -1.1, -1.2, -1.35, 0.2, -1.2, -1.1, -1.15, -1.3, -1.4, -1.25, -1.1, -1.05, -1.2, -1.3,
    -1.25, -1.15, -1.1, -1.3, -1.4, -1.2, -1.45, -1.15, -1.1, -1.3, -1.2, -1.1, 0.15, -1.4, -1.5, -1.2, -1.1, -1.3, -1.1, -1.2,
    -1.15, -1.3, -1.2, -1.1, -1.45, -1.2, -1.3, -1.1, -1.2, -1.35, -1.1, -1.2, -1.15, -1.3, 0.15, -1.5, -1.3, -1.2, -1.1, -1.05,
    -1.0, -1.05, -1.2, -1.15, -1.1, -1.3, -1.2, -1.15, -1.1, -1.2, -1.1, -1.3, -1.2, -1.1, -1.05, -1.0, -0.95, -1.0, -0.95, -1.0,
    -1.25, -1.3, -1.4, -1.45, -1.1, -1.3, -1.35, -1.3, -1.25, -1.1, -1.0, 0.2, -1.5, -1.45, -1.1, -1.2, -1.3, -1.35, -1.2, -1.1,
    -1.15, -1.2, -1.1, -1.05, -1.15, -1.3, -1.15, -1.1, -1.15, -1.3, -1.1, -1.05, -1.15, -1.3, -1.1, -1.15, -1.2, -1.1, -1.15, -1.25,
    -1.1, -1.3, -1.15, -1.2, -1.4, -1.2, -1.15, -1.3, -1.2, -1.45, -1.3, -1.1, -0.95, -1.05, -1.3, -1.2, -1.4, -1.3, -1.2, -1.3,
    -1.15, -1.2, -1.3, -1.4, -1.2, -1.15, -1.1, -1.3, -1.2, -1.35, -1.3, -1.4, -1.2, -1.15, -1.3, -1.2, -1.3, 0.2, -1.35, -1.3,
    -1.4, 0.2, -1.2, -1.15, -1.3, -1.3, -1.2, -1.5, -1.1, -1.55, -1.2, -1.3, -1.4, -1.5, 0.15, -1.45, -1.15, -1.1, -1.1, -1.05,
    -1.1, -1.15, -1.3, -1.2, -1.4, -1.3, -1.2, -1.3, -1.35, -1.3, -1.45, -1.2, -1.3, -1.15, -1.2, -1.35, -1.15, -1.2, -1.3, -1.2,
]
VaCuCanShield = [
    -2.8, -2.4, -2.3, -2.6, -2.5, -2.35, -2.55, -2.4, -2.7, -2.3, -2.5, -2.45, -2.6, -2.35, -2.5, -2.65, -2.4, -2.3, -2.55, -2.45,
    -2.6, -2.35, -2.5, -2.4, -2.7, -2.45, -2.3, -2.55, -2.4, -2.6, -2.35, -2.5, -2.65, -2.4, -2.3, -2.55, -2.45, -2.6, -2.35, -2.5,
    -2.4, -2.55, -2.3, -2.65, -2.45, -2.5, -2.35, -2.6, -2.4, -2.3, -2.55, -2.45, -2.7, -2.35, -2.5, -2.4, -2.6, -2.3, -2.5, -2.45,
    -2.55, -2.4, -2.6, -2.35, -2.5, -2.3, -2.45, -2.65, -2.4, -2.55, -2.3, -2.5, -2.4, -2.6, -2.35, -2.45, -2.55, -2.4, -2.3, -2.6,
    -2.35, -2.5, -2.45, -2.6, -2.3, -2.55, -2.4, -2.7, -2.45, -2.35, -2.5, -2.6, -2.4, -2.3, -2.55, -2.45, -2.65, -2.35, -2.5, -2.4,
    -2.5, -2.3, -2.55, -2.4, -2.6, -2.45, -2.35, -2.5, -2.65, -2.4, -2.3, -2.55, -2.45, -2.6, -2.35, -2.5, -2.4, -2.3, -2.6, -2.45,
    -2.4, -2.6, -2.35, -2.5, -2.45, -2.3, -2.65, -2.4, -2.55, -2.35, -2.5, -2.4, -2.6, -2.3, -2.45, -2.55, -2.35, -2.5, -2.4, -2.6,
    -2.55, -2.35, -2.5, -2.45, -2.6, -2.4, -2.3, -2.55, -2.45, -2.65, -2.4, -2.5, -2.35, -2.6, -2.45, -2.3, -2.5, -2.4, -2.55, -2.35,
    -2.45, -2.6, -2.4, -2.3, -2.55, -2.5, -2.35, -2.65, -2.4, -2.5, -2.3, -2.45, -2.6, -2.35, -2.5, -2.4, -2.55, -2.3, -2.45, -2.6,
    -2.35, -2.5, -2.45, -2.6, -2.4, -2.3, -2.55, -2.45, -2.6, -2.35, -2.5, -2.4, -2.3, -2.55, -2.45, -2.6, -2.4, -2.5, -2.35, -2.45,
]
CuHolder = [
    -2.3, -1.8, -1.8, -1.75, -1.75, -1.8, -1.75, -1.8, -1.75, -1.8, -1.75, -1.8, -1.75, -1.75, -1.8, -1.75, -1.8, -1.5, -1.7, -1.75,
    -1.75, -1.8, -1.75, -1.75, -1.8, -1.75, -1.7, -1.75, -1.8, -1.75, -1.75, -1.8, -1.75, -1.7, -1.45, -1.7, -1.75, -1.8, -1.75, -1.75,
    -1.8, -1.75, -1.8, -1.85, -1.8, -1.75, -1.8, -1.85, -1.8, -1.75, -1.8, -1.85, -1.9, -1.8, -1.85, -1.8, -1.85, -1.9, -1.85, -1.55,
    -1.9, -1.85, -1.9, -1.95, -1.9, -1.85, -1.9, -1.85, -1.9, -1.95, -1.9, -1.85, -1.8, -1.85, -1.8, -1.75, -1.8, -1.7, -1.75, -1.6,
    -1.45, -1.75, -1.85, -1.9, -1.85, -1.9, -1.85, -1.9, -1.95, -1.9, -1.85, -1.9, -1.85, -1.9, -1.95, -1.9, -1.85, -1.9, -1.95, -1.9,
    -1.9, -1.95, -1.9, -1.95, -2.0, -1.95, -1.9, -1.95, -1.9, -2.0, -1.95, -1.9, -1.95, -2.0, -1.95, -1.9, -1.85, -1.9, -1.95, -1.9,
    -1.85, -1.55, -1.9, -1.95, -2.0, -1.95, -1.9, -2.0, -1.95, -1.9, -1.95, -2.0, -1.9, -1.95, -1.9, -1.95, -2.0, -1.95, -2.0, -1.95,
    -1.95, -2.0, -1.95, -1.9, -1.95, -2.0, -1.95, -1.9, -1.85, -1.9, -1.95, -2.0, -1.95, -2.0, -1.95, -2.0, -1.95, -1.9, -1.95, -2.0,
    -2.0, -1.95, -2.0, -1.95, -1.9, -1.95, -1.9, -1.85, -1.9, -1.85, -1.9, -1.8, -1.85, -1.8, -1.85, -1.8, -1.85, -1.9, -1.85, -1.9,
    -1.95, -1.9, -1.6, -1.95, -2.0, -1.95, -2.0, -1.95, -2.0, -1.9, -1.95, -1.9, -1.85, -1.65, -1.6, -1.75, -1.85, -1.9, -1.85, -1.8,
]
total = [
    -1.5, -1.1, -0.9, 0.2, -0.8, -0.85, -0.75, -0.8, -0.8, 0.25, -0.6, -0.55, -0.7, -0.8, -0.9, -0.85, -0.75, -0.55, -0.6, -0.8,
    -0.85, -0.8, -0.7, -0.85, -0.75, -0.8, -0.9, -0.75, -0.7, -0.85, -0.8, -0.75, 0.2, -0.9, -0.95, -0.8, -0.75, -0.85, -0.7, -0.8,
    -0.75, -0.85, -0.8, -0.7, -0.75, -0.8, -0.85, -0.75, -0.8, -0.9, -0.7, -0.8, -0.75, -0.85, 0.2, -0.95, -0.85, -0.8, -0.75, -0.7,
    -0.6, -0.65, -0.8, -0.75, -0.7, -0.85, -0.8, -0.75, -0.7, -0.8, -0.75, -0.85, -0.8, -0.75, -0.7, -0.6, -0.55, -0.6, -0.55, -0.6,
    -0.9, -0.85, -0.95, -1.0, -0.75, -0.85, -0.9, -0.9, -0.85, -0.7, -0.55, 0.25, -1.0, -0.95, -0.75, -0.8, -0.85, -0.9, -0.8, -0.7,
    -0.75, -0.8, -0.7, -0.65, -0.75, -0.8, -0.75, -0.7, -0.75, -0.85, -0.7, -0.65, -0.75, -0.85, -0.7, -0.75, -0.8, -0.7, -0.75, -0.8,
    -0.7, -0.85, -0.75, -0.8, -0.9, -0.8, -0.75, -0.85, -0.8, -0.9, -0.85, -0.7, -0.55, -0.65, -0.85, -0.8, -0.9, -0.85, -0.8, -0.85,
    -0.75, -0.8, -0.85, -0.9, -0.8, -0.75, -0.7, -0.85, -0.8, -0.9, -0.85, -0.9, -0.8, -0.75, -0.85, -0.8, -0.85, 0.25, -0.8, -0.85,
    -0.9, 0.25, -0.8, -0.75, -0.85, -0.85, -0.8, -0.95, -0.7, -1.05, -0.8, -0.85, -0.9, -1.0, 0.2, -0.95, -0.75, -0.7, -0.7, -0.65,
    -0.7, -0.75, -0.85, -0.8, -0.9, -0.85, -0.8, -0.85, -0.9, -0.85, -0.95, -0.8, -0.85, -0.75, -0.8, -0.9, -0.75, -0.8, -0.85, -0.8,
]
total_rel_err = 0.25
total_peak_bins = [3, 9, 32, 54, 91, 157, 161, 174]
total_peak_rel_err = 0.9

# red reference line
limit_x = [2.0, 7.5]
limit_y = 0.22

# name, values, colour -- in the order ROOT filled the legend (3 per row)
components = [
    ("InternalLeadShield", InternalLeadShield, "#000000"),
    ("VacuumCuCan", VacuumCuCan, "#33ffff"),
    ("ColdShield", ColdShield, "#ff33ff"),
    ("SecShield", SecShield, "#cccccc"),
    ("Vespel", Vespel, "#3333ff"),
    ("VespelHeatShield", VespelHeatShield, "#339933"),
    ("VespelSaddel", VespelSaddel, "#cc33ff"),
    ("VespelSeat", VespelSeat, "#333399"),
    ("VerticalFingerBase", VerticalFingerBase, "#cc3333"),
    ("VerticalFinger", VerticalFinger, "#ff3333"),
    ("HorizontalFinger", HorizontalFinger, "#33ff33"),
    ("Cryostat", Cryostat, "#ffcc33"),
    ("Tube", Tube, "#cccc33"),
    ("AddEFCuShield", AddEFCuShield, "#337f7f"),
    ("AddPbShield", AddPbShield, "#cc9933"),
    ("ExternalLeadShield", ExternalLeadShield, "#999999"),
    ("VaCuCanShield", VaCuCanShield, "#b2b2b2"),
    ("CuHolder", CuHolder, "#ffff33"),
]
total_color = "#993333"

W, H = 1152, 759
fig = plt.figure(figsize=(W / 100, H / 100), dpi=100)
ax = fig.add_axes([130 / W, 1 - 700 / H, 1000 / W, 680 / H])

edges = np.linspace(e_min, e_max, n_bins + 1)
centers = 0.5 * (edges[:-1] + edges[1:])

for name, vals, col in components:
    ax.stairs(np.power(10.0, vals), edges, baseline=None, color=col, lw=1.5)

tot = np.power(10.0, total)
ax.stairs(tot, edges, baseline=None, color=total_color, lw=1.5, zorder=5)
rel = np.full(n_bins, total_rel_err)
rel[total_peak_bins] = total_peak_rel_err
ax.errorbar(centers, tot, yerr=[tot * np.minimum(rel, 0.6), tot * rel], fmt='o', ms=2,
            color=total_color, mfc='black', mec='black', elinewidth=1.5, capsize=0, zorder=6)

ax.plot(limit_x, [limit_y, limit_y], color='#ff0000', lw=3.2, zorder=7)

ax.set_yscale('log')
ax.set_xlim(e_min, e_max)
ax.set_ylim(1e-7, 1e6)


def log_fmt(v, pos):
    e = int(round(np.log10(v)))
    if e == 0:
        return '1'
    if e == 1:
        return '10'
    return '$10^{%d}$' % e


ax.yaxis.set_major_locator(LogLocator(base=10, numticks=20))
ax.yaxis.set_minor_locator(LogLocator(base=10, subs=np.arange(2, 10), numticks=20))
ax.yaxis.set_major_formatter(FuncFormatter(log_fmt))
ax.yaxis.set_minor_formatter(NullFormatter())
ax.xaxis.set_major_locator(MultipleLocator(2))
ax.xaxis.set_minor_locator(MultipleLocator(0.5))

ax.tick_params(axis='both', which='both', direction='in', top=False, right=False, width=1.1)
ax.tick_params(axis='y', which='major', length=24, labelsize=17, pad=7)
ax.tick_params(axis='y', which='minor', length=12)
ax.tick_params(axis='x', which='major', length=14, labelsize=17, pad=6)
ax.tick_params(axis='x', which='minor', length=8)
for sp in ax.spines.values():
    sp.set_linewidth(1.5)

fig.text(45 / W, 1 - 18 / H, 'Events [kg$^{-1}$ keV$^{-1}$ day$^{-1}$]', rotation=90,
         ha='center', va='top', fontsize=18)
fig.text(1132 / W, 1 - 742 / H, 'Energy [keV]', ha='right', va='center', fontsize=18.5)

# legend drawn by hand: 3 columns, boxes with coloured outlines
legend_items = [(n, c) for n, v, c in components] + [("total", total_color)]
box_x = [168, 508, 810]
row_y0, row_dy = 68, 31.6
for i, (name, col) in enumerate(legend_items):
    r, c = divmod(i, 3)
    yc = row_y0 + r * row_dy
    fig.add_artist(Rectangle((box_x[c] / W, 1 - (yc + 11) / H), 58 / W, 22 / H,
                             transform=fig.transFigure, fill=False, edgecolor=col, lw=1.6))
    fig.text((box_x[c] + 70) / W, 1 - yc / H, name, ha='left', va='center', fontsize=19.5)

fig.savefig('out.png', dpi=100)
